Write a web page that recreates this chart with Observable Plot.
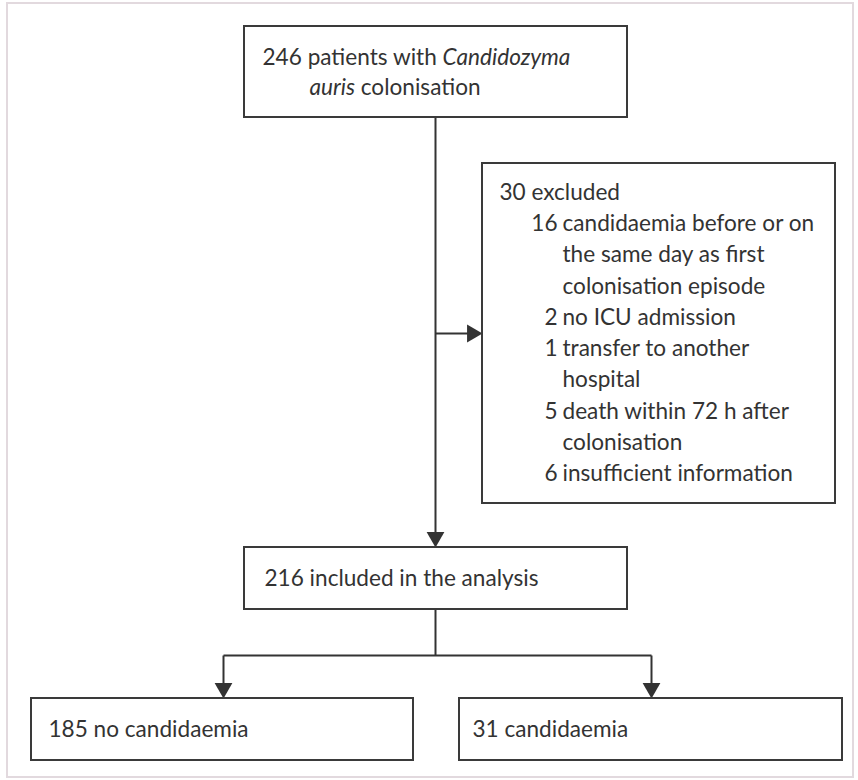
<!DOCTYPE html>
<html>
<head>
<meta charset="utf-8">
<script src="https://cdn.jsdelivr.net/npm/d3@7"></script>
<script src="https://cdn.jsdelivr.net/npm/@observablehq/plot@0.6"></script>
<style>
  html, body { margin: 0; padding: 0; background: #ffffff; }
  #chart { width: 858px; height: 780px; }
  svg { display: block; }
</style>
</head>
<body>
<div id="chart"></div>
<script>
// ---------- DATA (content only) ----------
const totalPatients = 246;
const totalLabel = ["patients with Candidozyma", "auris colonisation"];
const italicWords = ["Candidozyma", "auris"];
const excludedTotal = 30;
const excludedLabel = "excluded";
const exclusionCounts = [16, 2, 1, 5, 6];
const exclusionReasons = [
  ["candidaemia before or on", "the same day as first", "colonisation episode"],
  ["no ICU admission"],
  ["transfer to another", "hospital"],
  ["death within 72 h after", "colonisation"],
  ["insufficient information"]
];
const includedTotal = 216;
const includedLabel = "included in the analysis";
const outcomeLabels = ["no candidaemia", "candidaemia"];
const outcomeCounts = [185, 31];

// ---------- LAYOUT (positions in page pixels) ----------
const W = 858, H = 780;
const boxes = [
  {id: "total",    x1: 244, x2: 627, y1: 26,  y2: 117},
  {id: "excluded", x1: 482, x2: 835, y1: 163, y2: 503},
  {id: "included", x1: 244, x2: 627, y1: 547, y2: 609},
  {id: "out0",     x1: 31,  x2: 413, y1: 698, y2: 760},
  {id: "out1",     x1: 459, x2: 842, y1: 698, y2: 760}
];
const frameBox = [{x1: 7, x2: 853, y1: 3, y2: 777}];
const spineX = 435, armY = 333, splitY = 655;
const outX = [223, 651];
const headR = 8.5;
const headS = Math.sqrt(headR * headR * Math.PI) * 0.6824; // tip distance from symbol centre
const lineH = 31.25;

const links = [
  {x1: spineX, y1: 117, x2: spineX, y2: 547 - headS},
  {x1: spineX, y1: armY, x2: 482 - headS, y2: armY},
  {x1: spineX, y1: 609, x2: spineX, y2: splitY},
  {x1: outX[0], y1: splitY, x2: outX[1], y2: splitY},
  {x1: outX[0], y1: splitY, x2: outX[0], y2: 698 - headS},
  {x1: outX[1], y1: splitY, x2: outX[1], y2: 698 - headS}
];
const heads = [
  {x: spineX, y: 547 - headS, rotate: 180},
  {x: 482 - headS, y: armY, rotate: 90},
  {x: outX[0], y: 698 - headS, rotate: 180},
  {x: outX[1], y: 698 - headS, rotate: 180}
];

// text rows
const texts = [];
texts.push({x: 262, y: 57, t: `${totalPatients} ${totalLabel[0]}`, a: "start"});
texts.push({x: 309, y: 87, t: totalLabel[1], a: "start"});
texts.push({x: 499, y: 192, t: `${excludedTotal} ${excludedLabel}`, a: "start"});
let yy = 223.5;
const countRows = [];
exclusionReasons.forEach((lines, i) => {
  countRows.push({x: 557, y: yy, t: String(exclusionCounts[i]), a: "end"});
  lines.forEach(l => { texts.push({x: 562, y: yy, t: l, a: "start"}); yy += lineH; });
});
texts.push(...countRows);
texts.push({x: 264, y: 578, t: `${includedTotal} ${includedLabel}`, a: "start"});
texts.push({x: 48, y: 729, t: `${outcomeCounts[0]} ${outcomeLabels[0]}`, a: "start"});
texts.push({x: 472, y: 729, t: `${outcomeCounts[1]} ${outcomeLabels[1]}`, a: "start"});

const ink = "#333333";
const font = "Lato, 'Open Sans', sans-serif";
const fs = 22.6;

const plot = Plot.plot({
  width: W, height: H,
  margin: 0,
  x: {domain: [0, W], range: [0, W], axis: null},
  y: {domain: [0, H], range: [0, H], axis: null},
  style: {fontFamily: font, background: "#ffffff"},
  marks: [
    Plot.rect(frameBox, {x1: "x1", x2: "x2", y1: "y1", y2: "y2", fill: "none", stroke: "#e2d9de", strokeWidth: 2}),
    Plot.link(links, {x1: "x1", y1: "y1", x2: "x2", y2: "y2", stroke: ink, strokeWidth: 2}),
    Plot.dot(heads, {x: "x", y: "y", rotate: "rotate", symbol: "triangle2", r: headR, fill: ink, stroke: "none"}),
    Plot.rect(boxes, {x1: "x1", x2: "x2", y1: "y1", y2: "y2", fill: "white", stroke: "#3a3a3a", strokeWidth: 2}),
    Plot.text(texts.filter(d => d.a === "start"), {x: "x", y: "y", text: "t", textAnchor: "start", fontSize: fs, fill: ink, lineAnchor: "middle"}),
    Plot.text(texts.filter(d => d.a === "end"), {x: "x", y: "y", text: "t", textAnchor: "end", fontSize: fs, fill: ink, lineAnchor: "middle"})
  ]
});

// italicise the species name words
d3.select(plot).selectAll("text").each(function() {
  const el = this;
  if (el.children.length) return;
  const s = el.textContent;
  if (!italicWords.some(w => s.split(" ").includes(w))) return;
  el.textContent = "";
  s.split(/(\s+)/).forEach(part => {
    const ts = document.createElementNS("http://www.w3.org/2000/svg", "tspan");
    ts.textContent = part;
    if (italicWords.includes(part)) ts.setAttribute("font-style", "italic");
    el.appendChild(ts);
  });
});

document.getElementById("chart").appendChild(plot);
</script>
</body>
</html>
